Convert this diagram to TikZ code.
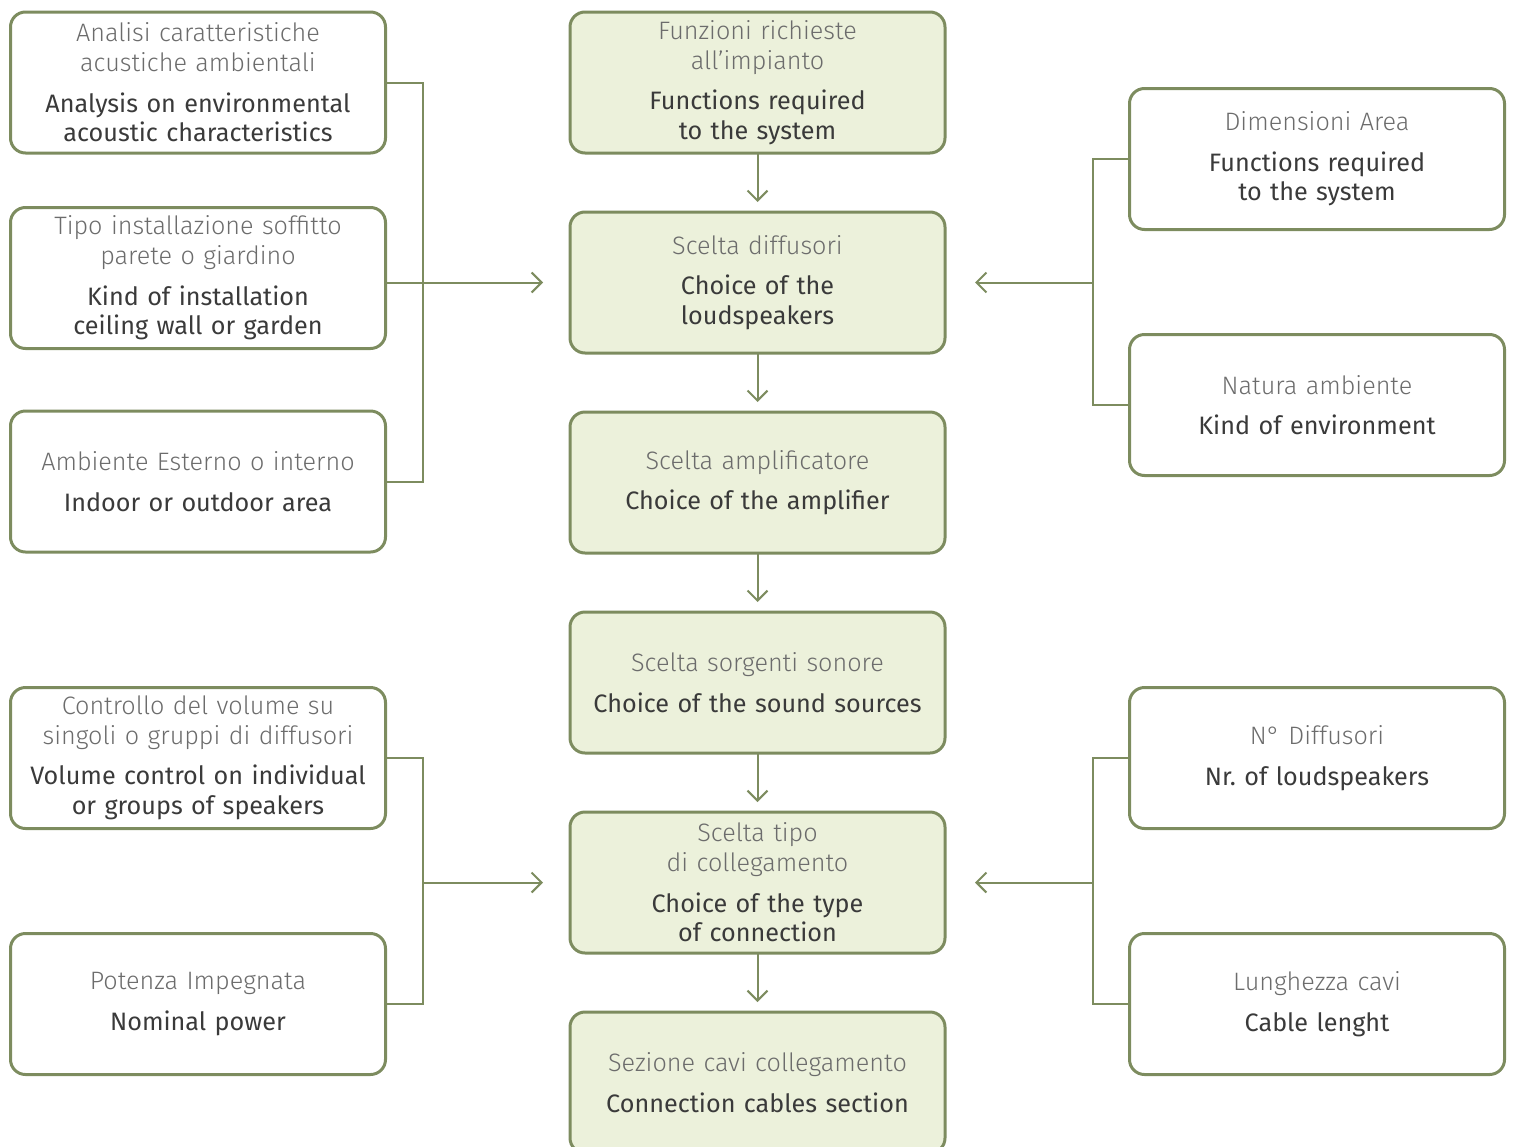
\documentclass[tikz,border=0pt]{standalone}
\usepackage{fontspec}
\setmainfont{Fira Sans}
\newfontfamily\lightfont{Fira Sans Light}
\usepackage{tikz,xcolor}
\usetikzlibrary{arrows.meta,positioning}
\definecolor{olive}{RGB}{125,140,95}
\definecolor{palegreen}{RGB}{236,241,219}
\definecolor{ittext}{RGB}{108,108,108}
\definecolor{entext}{RGB}{58,58,58}
\newcommand{\twolang}[2]{{\color{ittext}\lightfont #1}\\[5.5pt]{\color{entext}#2}}
\tikzstyle{line} = [olive,line width=1pt]
\tikzstyle{arrow} = [line,-{Straight Barb[length=5pt,width=10pt]}]

\begin{document}
\begin{tikzpicture}[x=0.5pt,y=-0.5pt,
    every node/.style={shape=rectangle,draw=olive,line width=1.5pt,rounded corners=7.5pt,outer sep=0pt,
        minimum width=187.5pt,minimum height=70.5pt,text width=184pt,align=center,inner sep=0pt,
        font=\fontsize{12.6}{14.8}\selectfont},
    main/.style={fill=palegreen}]
    \useasboundingbox (0,0) rectangle (1515,1146);
    \clip (0,0) rectangle (1515,1146);
    % left column
    \node (ana) at (198,82.5) {\twolang{Analisi caratteristiche\\acustiche ambientali}{Analysis on environmental\\acoustic characteristics}};
    \node (inst) at (198,278) {\twolang{Tipo installazione soffitto\\parete o giardino}{Kind of installation\\ceiling wall or garden}};
    \node (amb) at (198,481.5) {\twolang{Ambiente Esterno o interno}{Indoor or outdoor area}};
    \node (vol) at (198,758) {\twolang{Controllo del volume su\\singoli o gruppi di diffusori}{Volume control on individual\\or groups of speakers}};
    \node (pot) at (198,1004) {\twolang{Potenza Impegnata}{Nominal power}};
    % main chain
    \node (func)[main] at (757.5,82.5) {\twolang{Funzioni richieste\\all’impianto}{Functions required\\to the system}};
    \node (spk)[main, below = 29.5pt of func] {\twolang{Scelta diffusori}{Choice of the\\loudspeakers}};
    \node (amp)[main, below = 29.5pt of spk] {\twolang{Scelta amplificatore}{Choice of the amplifier}};
    \node (src)[main, below = 29.5pt of amp] {\twolang{Scelta sorgenti sonore}{Choice of the sound sources}};
    \node (conn)[main, below = 29.5pt of src] {\twolang{Scelta tipo\\di collegamento}{Choice of the type\\of connection}};
    \node (cab)[main, below = 29.5pt of conn] {\twolang{Sezione cavi collegamento}{Connection cables section}};
    % right column
    \node (dim) at (1317,159) {\twolang{Dimensioni Area}{Functions required\\to the system}};
    \node (nat) at (1317,405) {\twolang{Natura ambiente}{Kind of environment}};
    \node (ndif) at (1317,758) {\twolang{N° Diffusori}{Nr.\ of loudspeakers}};
    \node (len) at (1317,1004) {\twolang{Lunghezza cavi}{Cable lenght}};

    % junctions
    \coordinate (jl1) at ([xshift=18.5pt]ana.east |- spk.west);
    \coordinate (jr1) at ([xshift=-18.5pt]dim.west |- spk.east);
    \coordinate (jl2) at ([xshift=18.5pt]vol.east |- conn.west);
    \coordinate (jr2) at ([xshift=-18.5pt]ndif.west |- conn.east);

    % connect the nodes
    \draw[line] (ana.east) -| (jl1) |- (amb.east);
    \draw[arrow] (inst.east |- spk.west) -- ([xshift=-13.5pt]spk.west);
    \draw[line] (dim.west) -| (jr1) |- (nat.west);
    \draw[arrow] (jr1) -- ([xshift=15pt]spk.east);
    \draw[line] (vol.east) -| (jl2) |- (pot.east);
    \draw[arrow] (jl2) -- ([xshift=-13.5pt]conn.west);
    \draw[line] (ndif.west) -| (jr2) |- (len.west);
    \draw[arrow] (jr2) -- ([xshift=15pt]conn.east);
    \draw[arrow] (func) -- ([yshift=5pt]spk.north);
    \draw[arrow] (spk) -- ([yshift=5pt]amp.north);
    \draw[arrow] (amp) -- ([yshift=5pt]src.north);
    \draw[arrow] (src) -- ([yshift=5pt]conn.north);
    \draw[arrow] (conn) -- ([yshift=5pt]cab.north);
\end{tikzpicture}
\end{document}
